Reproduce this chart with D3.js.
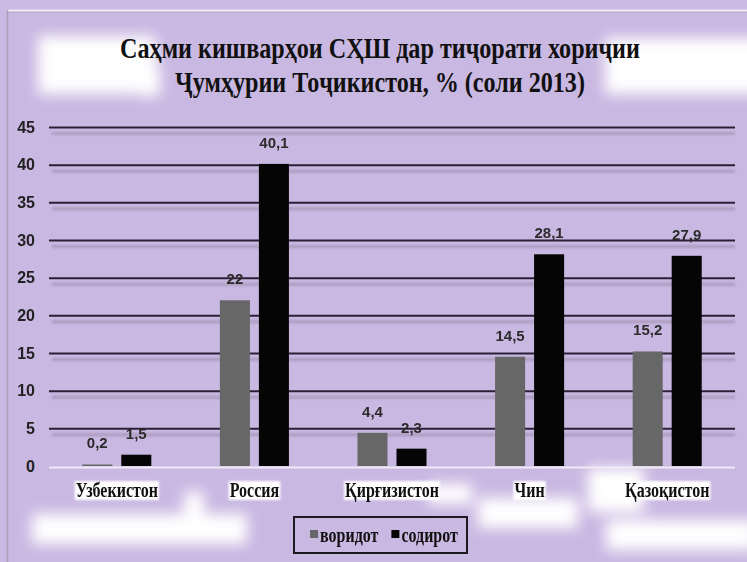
<!DOCTYPE html>
<html><head><meta charset="utf-8">
<script src="https://cdn.jsdelivr.net/npm/d3@7"></script>
<style>html,body{margin:0;padding:0;background:#c9b8e2;} svg{display:block}</style>
</head><body>
<svg id="chart" width="747" height="562"></svg>
<script>
const titleLines = ["Саҳми кишварҳои СҲШ дар тиҷорати хориҷии", "Ҷумҳурии Тоҷикистон, % (соли 2013)"];
const categories = ["Узбекистон", "Россия", "Қирғизистон", "Чин", "Қазоқистон"];
const seriesNames = ["воридот", "содирот"];
const importsVals = [0.2, 22, 4.4, 14.5, 15.2];
const exportsVals = [1.5, 40.1, 2.3, 28.1, 27.9];
const yTicks = [0, 5, 10, 15, 20, 25, 30, 35, 40, 45];
const seriesColors = ["#676767", "#050505"];

const W = 747, H = 562;
const svg = d3.select("#chart");
const serif = "'Liberation Serif','DejaVu Serif',serif";
const sans = "'Liberation Sans','DejaVu Sans',sans-serif";
const loc = d3.formatLocale({decimal: ",", thousands: " ", grouping: [3], currency: ["", ""]});
const fmt = loc.format("~g");

const defs = svg.append("defs");
defs.append("filter").attr("id", "glow").attr("x", "-50%").attr("y", "-100%").attr("width", "200%").attr("height", "300%")
  .append("feGaussianBlur").attr("stdDeviation", 7);
defs.append("filter").attr("id", "soft").attr("x", "-20%").attr("y", "-50%").attr("width", "140%").attr("height", "200%")
  .append("feGaussianBlur").attr("stdDeviation", 1.2);
defs.append("filter").attr("id", "shadow").attr("x", "-5%").attr("y", "-200%").attr("width", "110%").attr("height", "500%")
  .append("feGaussianBlur").attr("stdDeviation", 1.3);

// background + frame
svg.append("rect").attr("width", W).attr("height", H).attr("fill", "#c9b8e2");
svg.append("rect").attr("width", W).attr("height", 10).attr("fill", "#cbbbe3");
svg.append("line").attr("x1", 7).attr("x2", W).attr("y1", 10.5).attr("y2", 10.5).attr("stroke", "#eee8f5").attr("stroke-width", 2);
svg.append("line").attr("x1", 8).attr("x2", W).attr("y1", 12.5).attr("y2", 12.5).attr("stroke", "#b9aacb").attr("stroke-width", 1);
svg.append("line").attr("x1", 7.5).attr("x2", 7.5).attr("y1", 10).attr("y2", H).attr("stroke", "#a99fb6").attr("stroke-width", 1.5);

// soft white glows
const glows = [
  [38, 36, 118, 58], [140, 66, 20, 30], [605, 38, 160, 56],
  [32, 514, 215, 30], [184, 492, 20, 44], [478, 498, 100, 30], [428, 484, 44, 20],
  [606, 520, 150, 30], [588, 468, 56, 44]
];
const glowG = svg.append("g").attr("filter", "url(#glow)");
glowG.selectAll("rect").data(glows).join("rect")
  .attr("x", d => d[0]).attr("y", d => d[1]).attr("width", d => d[2]).attr("height", d => d[3])
  .attr("fill", "#ffffff");

// title (compressed horizontally like the reference)
const titleWidths = [520, 410];
const titleBase = [58, 92];
titleLines.forEach((t, i) => {
  const g = svg.append("g");
  const txt = g.append("text").attr("x", 0).attr("y", 0).attr("text-anchor", "middle")
    .attr("font-family", serif).attr("font-weight", "bold").attr("font-size", 30).attr("fill", "#111").text(t);
  const sx = titleWidths[i] / txt.node().getComputedTextLength();
  g.attr("transform", `translate(380,${titleBase[i]}) scale(${sx},1)`);
});

// scales
const y = d3.scaleLinear().domain([0, 45]).range([466, 127]);
const x0 = d3.scaleBand().domain(categories).range([48, 736]);
const x1 = d3.scaleBand().domain(seriesNames).range([0, x0.bandwidth()]).paddingInner(0.23).paddingOuter(0.879);

// gridline shadows
svg.append("g").attr("filter", "url(#shadow)").selectAll("line").data(yTicks.filter(t => t > 0)).join("line")
  .attr("x1", 52).attr("x2", 735).attr("y1", d => y(d) + 6.5).attr("y2", d => y(d) + 6.5)
  .attr("stroke", "#a595b7").attr("stroke-width", 3).attr("opacity", 0.8);

// y axis with gridlines
const yAxis = svg.append("g").attr("transform", "translate(49,0)")
  .call(d3.axisLeft(y).tickValues(yTicks).tickSize(-686).tickPadding(14).tickFormat(d3.format("d")));
yAxis.select(".domain").remove();
yAxis.selectAll(".tick line").attr("stroke", d => d === 0 ? "none" : "#2a2036").attr("stroke-width", 2);
yAxis.selectAll(".tick text").attr("font-family", sans).attr("font-weight", "bold").attr("font-size", 16).attr("fill", "#222");

// bars
const rows = categories.map((c, i) => ({cat: c, vals: [importsVals[i], exportsVals[i]]}));
const groups = svg.append("g").selectAll("g").data(rows).join("g")
  .attr("transform", d => `translate(${x0(d.cat)},0)`);
groups.selectAll("rect").data(d => d.vals.map((v, k) => ({k, v}))).join("rect")
  .attr("x", d => x1(seriesNames[d.k])).attr("width", x1.bandwidth())
  .attr("y", d => y(d.v)).attr("height", d => y(0) - y(d.v))
  .attr("fill", d => seriesColors[d.k]);
groups.selectAll("text").data(d => d.vals.map((v, k) => ({k, v}))).join("text")
  .attr("x", d => x1(seriesNames[d.k]) + x1.bandwidth() / 2).attr("y", d => y(d.v) - 16)
  .attr("text-anchor", "middle").attr("font-family", sans).attr("font-weight", "bold").attr("font-size", 15)
  .attr("fill", "#2b2b2b").text(d => fmt(d.v));

// zero line (light)
svg.append("line").attr("x1", 49).attr("x2", 735).attr("y1", y(0) + 1.5).attr("y2", y(0) + 1.5)
  .attr("stroke", "#efeaf5").attr("stroke-width", 2);

// x axis labels
const xAxis = svg.append("g").attr("transform", `translate(0,${y(0)})`)
  .call(d3.axisBottom(x0).tickSize(0));
xAxis.select(".domain").remove();
const xt = xAxis.selectAll(".tick text").attr("y", 31).attr("dy", 0)
  .attr("font-family", serif).attr("font-weight", "bold").attr("font-size", 20).attr("fill", "#111");
xt.each(function() {
  const L = this.getComputedTextLength();
  d3.select(this).attr("textLength", L * 0.8).attr("lengthAdjust", "spacingAndGlyphs");
});
xAxis.selectAll(".tick").each(function() {
  const t = d3.select(this).select("text");
  const b = t.node().getBBox();
  d3.select(this).insert("rect", "text")
    .attr("x", b.x - 1).attr("y", 15).attr("width", b.width + 2).attr("height", 19)
    .attr("fill", "#ffffff").attr("filter", "url(#soft)");
});

// legend
const lg = svg.append("g");
lg.append("rect").attr("x", 294).attr("y", 517).attr("width", 173).attr("height", 36)
  .attr("fill", "none").attr("stroke", "#1c1a20").attr("stroke-width", 2);
let lx = 310;
seriesNames.forEach((s, i) => {
  lg.append("rect").attr("x", lx).attr("y", 530).attr("width", 8).attr("height", 8).attr("fill", seriesColors[i]);
  const t = lg.append("text").attr("x", lx + 10).attr("y", 542)
    .attr("font-family", serif).attr("font-weight", "bold").attr("font-size", 20).attr("fill", "#111").text(s);
  const L = t.node().getComputedTextLength() * 0.8;
  t.attr("textLength", L).attr("lengthAdjust", "spacingAndGlyphs");
  lx += 10 + L + 13;
});
</script>
</body></html>
